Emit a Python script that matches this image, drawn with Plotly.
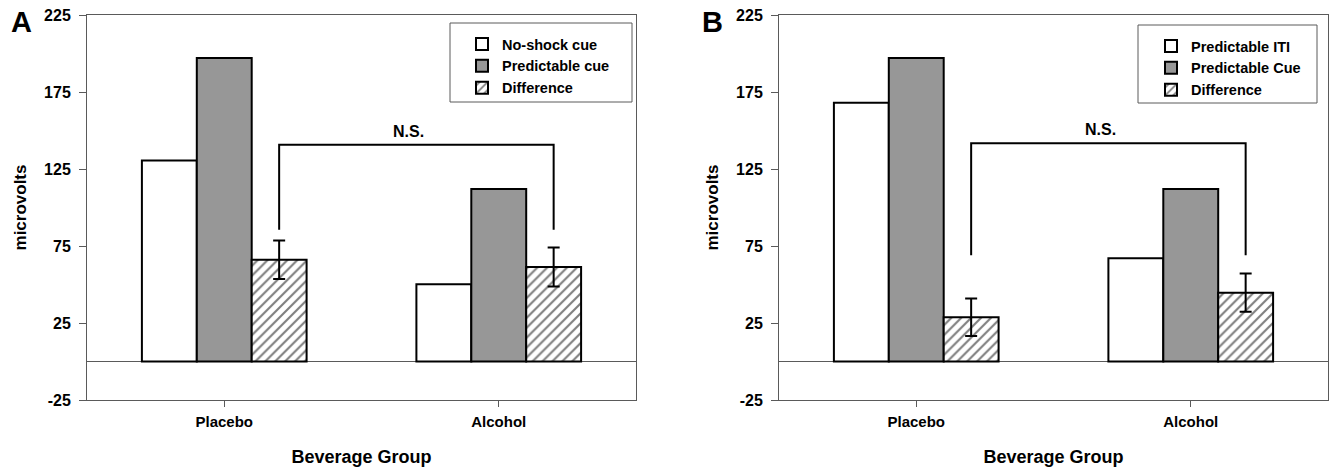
import plotly.graph_objects as go

# Beverage groups on the x axis
groups = ["Placebo", "Alcohol"]

# Panel A: startle magnitude (microvolts)
a_noshock = [130.5, 50.2]
a_pred = [197.0, 112.0]
a_diff = [66.0, 61.4]
a_diff_err = [12.5, 12.7]
a_names = ["No-shock cue", "Predictable cue", "Difference"]

# Panel B: startle magnitude (microvolts)
b_iti = [168.0, 67.0]
b_pred = [197.0, 112.0]
b_diff = [28.7, 44.7]
b_diff_err = [12.2, 12.4]
b_names = ["Predictable ITI", "Predictable Cue", "Difference"]

# Significance brackets: [leg end, top, top, leg end]
a_bracket_y = [85.5, 140.8, 140.8, 85.5]
b_bracket_y = [69.0, 141.8, 141.8, 69.0]
ns_label = "N.S."

y_ticks = [-25, 25, 75, 125, 175, 225]
y_ticktext = ["-25", "25", "75", "125", "175", "225"]

FONT = "Liberation Sans, Arial, Helvetica, sans-serif"
GREY_FILL = "#979797"
FRAME = "#5a5a5a"
BARGAP = 0.4

W, H = 1329, 467


def px(x):
    return x / W


def py(y):
    return 1 - y / H


xpos = list(range(len(groups)))
bar_w = (1 - BARGAP) / 3
diff_x = [xpos[0] + bar_w, xpos[1] + bar_w]

fig = go.Figure()


def add_panel(vals1, vals2, diff, err, names, bracket_y, xa, ya, legend):
    line = dict(color="black", width=2)
    fig.add_trace(go.Bar(
        x=xpos, y=vals1, name=names[0], xaxis=xa, yaxis=ya, legend=legend,
        marker=dict(color="white", line=line), offsetgroup=f"{xa}1"))
    fig.add_trace(go.Bar(
        x=xpos, y=vals2, name=names[1], xaxis=xa, yaxis=ya, legend=legend,
        marker=dict(color=GREY_FILL, line=line), offsetgroup=f"{xa}2"))
    fig.add_trace(go.Bar(
        x=xpos, y=diff, name=names[2], xaxis=xa, yaxis=ya, legend=legend,
        marker=dict(color="white", line=line,
                    pattern=dict(shape="/", fgcolor="black", bgcolor="white",
                                 size=7, solidity=0.3)),
        error_y=dict(type="data", array=err, visible=True,
                     color="black", thickness=2, width=6),
        offsetgroup=f"{xa}3"))
    fig.add_trace(go.Scatter(
        x=[diff_x[0], diff_x[0], diff_x[1], diff_x[1]], y=bracket_y,
        mode="lines", line=dict(color="black", width=2),
        xaxis=xa, yaxis=ya, showlegend=False, hoverinfo="skip"))


add_panel(a_noshock, a_pred, a_diff, a_diff_err, a_names, a_bracket_y, "x", "y", "legend")
add_panel(b_iti, b_pred, b_diff, b_diff_err, b_names, b_bracket_y, "x2", "y2", "legend2")

tick_font = dict(family=FONT, size=16, color="black", weight="bold")
xtick_font = dict(family=FONT, size=15, color="black", weight="bold")
title_font = dict(family=FONT, size=18, color="black", weight="bold")


def xaxis_cfg(domain, anchor):
    return dict(domain=domain, anchor=anchor, range=[-0.5, 1.5],
                tickmode="array", tickvals=xpos, ticktext=groups,
                ticks="outside", ticklen=6, tickcolor=FRAME, tickwidth=1,
                ticklabelstandoff=2,
                showline=True, linecolor=FRAME, linewidth=1, mirror=True,
                showgrid=False, zeroline=False, tickfont=xtick_font,
                title=dict(text="Beverage Group", font=title_font, standoff=21),
                automargin=False, fixedrange=True)


def yaxis_cfg(domain, anchor):
    return dict(domain=domain, anchor=anchor, range=[-25, 225],
                tickmode="array", tickvals=y_ticks, ticktext=y_ticktext,
                ticks="outside", ticklen=7, tickcolor=FRAME, tickwidth=1,
                ticklabelstandoff=5,
                showline=True, linecolor=FRAME, linewidth=1, mirror=True,
                showgrid=False, zeroline=True, zerolinecolor=FRAME, zerolinewidth=1,
                tickfont=tick_font,
                title=dict(text="microvolts", font=dict(family=FONT, size=17,
                                                          color="black", weight="bold"),
                           standoff=13),
                automargin=False, fixedrange=True)


ydom = [py(400), py(15)]
legend_font = dict(family=FONT, size=14.5, color="black", weight="bold")
fig.update_layout(
    width=W, height=H,
    margin=dict(l=0, r=0, t=0, b=0),
    paper_bgcolor="white", plot_bgcolor="white",
    barmode="group", bargap=BARGAP, bargroupgap=0,
    showlegend=True,
    xaxis=xaxis_cfg([px(87), px(636)], "y"),
    yaxis=yaxis_cfg(ydom, "x"),
    xaxis2=xaxis_cfg([px(779), px(1328)], "y2"),
    yaxis2=yaxis_cfg(ydom, "x2"),
    legend=dict(x=px(462), y=py(28), xanchor="left", yanchor="top",
                bgcolor="rgba(0,0,0,0)", borderwidth=0,
                font=legend_font, itemwidth=30),
    legend2=dict(x=px(1151), y=py(30), xanchor="left", yanchor="top",
                 bgcolor="rgba(0,0,0,0)", borderwidth=0,
                 font=legend_font, itemwidth=30),
    shapes=[
        dict(type="rect", xref="paper", yref="paper",
             x0=px(450), x1=px(632), y0=py(102), y1=py(23),
             line=dict(color=FRAME, width=1), fillcolor="rgba(0,0,0,0)"),
        dict(type="rect", xref="paper", yref="paper",
             x0=px(1138), x1=px(1317), y0=py(103), y1=py(25),
             line=dict(color=FRAME, width=1), fillcolor="rgba(0,0,0,0)"),
    ],
    annotations=[
        dict(text="A", xref="paper", yref="paper", x=px(21.5), y=py(22),
             xanchor="center", yanchor="middle", showarrow=False,
             font=dict(family=FONT, size=29, color="black", weight="bold")),
        dict(text="B", xref="paper", yref="paper", x=px(712), y=py(22),
             xanchor="center", yanchor="middle", showarrow=False,
             font=dict(family=FONT, size=29, color="black", weight="bold")),
        dict(text=ns_label, xref="x", yref="y", x=0.67, y=149.5,
             xanchor="center", yanchor="middle", showarrow=False,
             font=dict(family=FONT, size=16, color="black", weight="bold")),
        dict(text=ns_label, xref="x2", yref="y2", x=0.67, y=150.5,
             xanchor="center", yanchor="middle", showarrow=False,
             font=dict(family=FONT, size=16, color="black", weight="bold")),
    ],
)

fig.write_html("out.html")
